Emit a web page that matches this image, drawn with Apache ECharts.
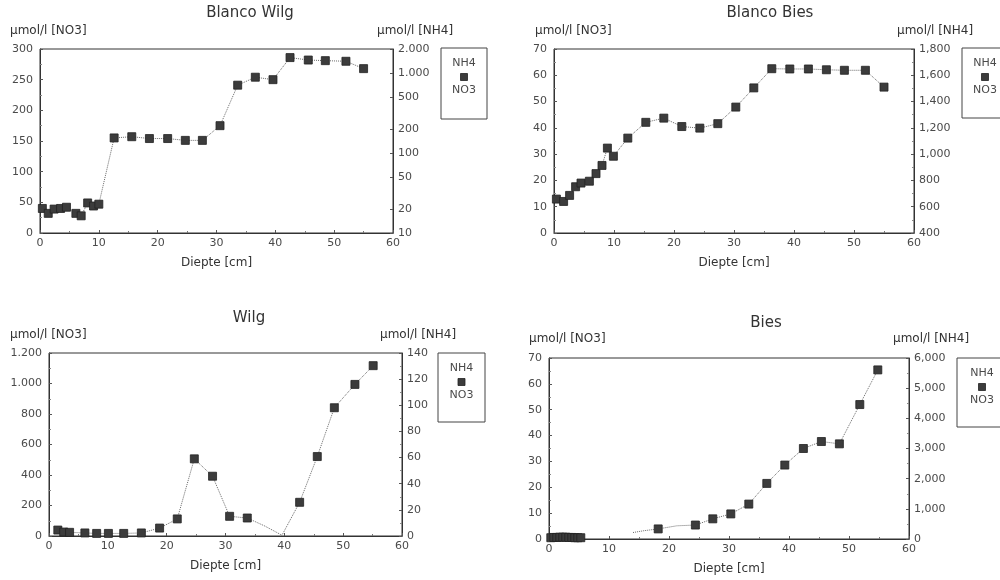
<!DOCTYPE html>
<html>
<head>
<meta charset="utf-8">
<script src="https://cdn.jsdelivr.net/npm/echarts@6/dist/echarts.min.js"></script>
<style>html,body{margin:0;padding:0;background:#fff}#c{width:1000px;height:580px}</style>
</head>
<body>
<div id="c"></div>
<script>
// ---- data ----
const titles = ['Blanco Wilg', 'Blanco Bies', 'Wilg', 'Bies'];
const xTicks = [0, 10, 20, 30, 40, 50, 60];

// Blanco Wilg
const bwDepth = [0.4,1.4,2.4,3.5,4.5,6.1,7.0,8.1,9.1,10.0,12.6,15.6,18.6,21.7,24.7,27.6,30.6,33.6,36.6,39.6,42.5,45.6,48.5,52.0,55.0];
const bwValue = [40,32,39,40,42,32,28,49,44,47,155,157,154,154,151,151,175,241,254,250,286,282,281,280,268];
const bwLeftTicks = [0,50,100,150,200,250,300];
const bwRightTicks = [10,20,50,100,200,500,1000,2000];

// Blanco Bies
const bbDepth = [0.4,1.6,2.6,3.6,4.5,5.9,7.0,8.0,8.9,9.9,12.3,15.3,18.3,21.3,24.3,27.3,30.3,33.3,36.3,39.3,42.4,45.4,48.4,51.9,55.0];
const bbValue = [12.9,12.0,14.3,17.6,19.0,19.7,22.6,25.7,32.3,29.2,36.1,42.1,43.7,40.5,39.9,41.6,47.9,55.2,62.5,62.4,62.4,62.1,61.9,61.9,55.5];
const bbLeftTicks = [0,10,20,30,40,50,60,70];
const bbRightTicks = [400,600,800,1000,1200,1400,1600,1800];

// Wilg
const wDepth = [1.5,2.5,3.5,6.1,8.1,10.1,12.7,15.7,18.8,21.8,24.7,27.8,30.7,33.7,36.7,39.6,42.6,45.6,48.5,52.0,55.1];
const wValue = [39,26,24,20,17,17,17,20,52,112,506,392,129,118,65,5,221,521,841,994,1117];
const wLeftTicks = [0,200,400,600,800,1000,1200];
const wRightTicks = [0,20,40,60,80,100,120,140];

// Bies
const bDepth = [0.3,0.8,1.3,1.8,2.3,2.8,3.3,3.8,4.3,4.8,5.3,9.5,14.0,15.8,18.2,21.3,24.4,27.3,30.3,33.3,36.3,39.3,42.4,45.4,48.4,51.8,54.8];
const bValue = [0.5,0.6,0.6,0.7,0.7,0.7,0.6,0.6,0.5,0.5,0.5,null,2.5,3.2,3.9,5.1,5.4,7.8,9.7,13.5,21.5,28.6,35.0,37.7,36.8,52.0,65.4];
const bLeftTicks = [0,10,20,30,40,50,60,70];
const bRightTicks = [0,1000,2000,3000,4000,5000,6000];

// ---- helpers ----
function fmt(v, sep) {
  const s = String(Math.round(v));
  if (!sep || s.length < 4) return s;
  return s.replace(/\B(?=(\d{3})+(?!\d))/g, sep);
}
const FONT = '"DejaVu Sans", "Liberation Sans", sans-serif';
const TXT = '#333';
const LBL = '#4a4a4a';
const MARK = '#3c3c3c';

const grids = [
  {left: 40, top: 49, width: 353, height: 184},
  {left: 554, top: 49, width: 360, height: 184},
  {left: 49, top: 353, width: 353, height: 183},
  {left: 549, top: 358, width: 360, height: 181}
];

function xAxisFor(i) {
  return {
    type: 'value', gridIndex: i, min: 0, max: 60, interval: 10,
    name: 'Diepte [cm]', nameLocation: 'middle', nameGap: 24,
    nameTextStyle: {color: TXT, fontSize: 12, fontFamily: FONT},
    axisLine: {show: true, lineStyle: {color: '#333', width: 1}},
    axisTick: {show: true, inside: true, length: 3, lineStyle: {color: '#555'}},
    minorTick: {show: true, splitNumber: 2, length: 2, lineStyle: {color: '#777'}},
    splitLine: {show: false},
    axisLabel: {color: LBL, fontSize: 11, fontFamily: FONT, margin: 5}
  };
}
function yAxisFor(i, pos, ticks, sep) {
  return {
    type: 'value', gridIndex: i, position: pos,
    min: ticks[0], max: ticks[ticks.length - 1], interval: ticks[1] - ticks[0],
    axisLine: {show: true, onZero: false, lineStyle: {color: '#333', width: 1}},
    axisTick: {show: true, inside: true, length: 3, lineStyle: {color: '#555'}},
    minorTick: {show: true, splitNumber: 2, length: 2, lineStyle: {color: '#888'}},
    splitLine: {show: false},
    axisLabel: {color: LBL, fontSize: 11, fontFamily: FONT, margin: pos === 'left' ? 7 : 5,
      formatter: v => fmt(v, sep)}
  };
}

// log axis for Blanco Wilg NH4 (ticks shown at log positions)
const bwLog = bwRightTicks.map(v => Math.log10(v));
const bwRightAxis = {
  type: 'value', gridIndex: 0, position: 'right',
  min: Math.log10(bwRightTicks[0]), max: Math.log10(bwRightTicks[bwRightTicks.length - 1]),
  axisLine: {show: true, onZero: false, lineStyle: {color: '#333', width: 1}},
  axisTick: {show: true, inside: true, length: 3, customValues: bwLog, lineStyle: {color: '#555'}},
  splitLine: {show: false},
  axisLabel: {color: LBL, fontSize: 11, fontFamily: FONT, margin: 5, customValues: bwLog,
    formatter: v => fmt(Math.pow(10, v), '.')}
};

function zip(d, v, hidden) {
  return d.map((x, k) => {
    const item = {value: [x, v[k] === null ? '-' : v[k]]};
    if (hidden && hidden.indexOf(k) >= 0) item.symbol = 'none';
    return item;
  });
}
function seriesFor(i, d, v, hidden) {
  return {
    type: 'line', name: 'NH4', xAxisIndex: i, yAxisIndex: i * 2,
    data: zip(d, v, hidden), connectNulls: false,
    symbol: 'rect', symbolSize: 8, showAllSymbol: true,
    lineStyle: {color: '#6a6a6a', width: 1, type: 'dotted'},
    itemStyle: {color: MARK, borderColor: '#222', borderWidth: 0.8},
    animation: false, z: 3
  };
}

function txt(x, y, s, size, align) {
  return {type: 'text', x: x, y: y, style: {text: s, fill: TXT, font: size + 'px ' + FONT,
    textAlign: align || 'left', textVerticalAlign: 'middle'}};
}
function legendBox(x, y, w, h) {
  const cx = x + w / 2;
  return [
    {type: 'rect', shape: {x: x, y: y, width: w, height: h}, style: {fill: '#fff', stroke: '#444', lineWidth: 1}},
    {type: 'text', x: cx, y: y + 15, style: {text: 'NH4', fill: LBL, font: '11px ' + FONT, textAlign: 'center', textVerticalAlign: 'middle'}},
    {type: 'rect', shape: {x: cx - 3.5, y: y + 25.5, width: 7, height: 7}, style: {fill: MARK, stroke: '#222', lineWidth: 0.8}},
    {type: 'text', x: cx, y: y + 42, style: {text: 'NO3', fill: LBL, font: '11px ' + FONT, textAlign: 'center', textVerticalAlign: 'middle'}}
  ];
}

const option = {
  backgroundColor: '#fff',
  animation: false,
  grid: grids.map(g => Object.assign({show: true, borderColor: '#333', borderWidth: 1, backgroundColor: 'transparent'}, g)),
  xAxis: [0, 1, 2, 3].map(xAxisFor),
  yAxis: [
    yAxisFor(0, 'left', bwLeftTicks, ''), bwRightAxis,
    yAxisFor(1, 'left', bbLeftTicks, ''), yAxisFor(1, 'right', bbRightTicks, ','),
    yAxisFor(2, 'left', wLeftTicks, '.'), yAxisFor(2, 'right', wRightTicks, ''),
    yAxisFor(3, 'left', bLeftTicks, ''), yAxisFor(3, 'right', bRightTicks, ',')
  ],
  series: [
    seriesFor(0, bwDepth, bwValue),
    seriesFor(1, bbDepth, bbValue),
    seriesFor(2, wDepth, wValue, [14, 15]),
    seriesFor(3, bDepth, bValue, [12, 13, 15])
  ],
  graphic: [].concat(
    [
      txt(250, 13, titles[0], 15, 'center'),
      txt(770, 13, titles[1], 15, 'center'),
      txt(249, 318, titles[2], 15, 'center'),
      txt(766, 323, titles[3], 15, 'center'),
      txt(10, 31, 'µmol/l [NO3]', 12),
      txt(377, 31, 'µmol/l [NH4]', 12),
      txt(535, 31, 'µmol/l [NO3]', 12),
      txt(897, 31, 'µmol/l [NH4]', 12),
      txt(10, 335, 'µmol/l [NO3]', 12),
      txt(380, 335, 'µmol/l [NH4]', 12),
      txt(529, 339, 'µmol/l [NO3]', 12),
      txt(893, 339, 'µmol/l [NH4]', 12)
    ],
    legendBox(441, 48, 46, 71),
    legendBox(962, 48, 46, 70),
    legendBox(438, 353, 47, 69),
    legendBox(957, 358, 50, 69)
  )
};

const chart = echarts.init(document.getElementById('c'), null, {renderer: 'canvas'});
chart.setOption(option);
</script>
</body>
</html>
